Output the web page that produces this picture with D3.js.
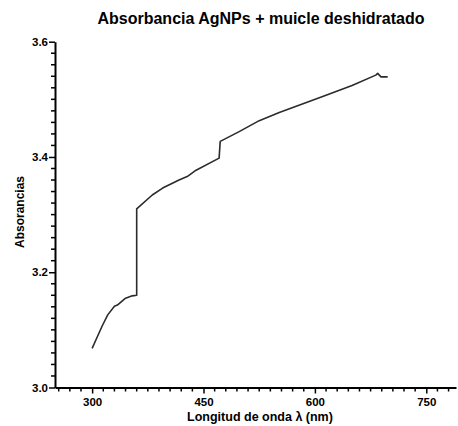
<!DOCTYPE html>
<html>
<head>
<meta charset="utf-8">
<script src="https://cdn.jsdelivr.net/npm/d3@7"></script>
<style>
  body { margin: 0; background: #fff; }
  text { font-family: "Liberation Sans", Arial, sans-serif; font-weight: bold; }
</style>
</head>
<body>
<svg id="chart" width="458" height="426"></svg>
<script>
// wavelength (nm) and absorbance
var wavelength = [300, 307, 314, 321, 330, 334, 345, 354, 360, 360, 381, 395, 417, 428, 440, 471, 472.5, 498, 525, 552, 615, 650, 682, 684.5, 689, 698];
var absorbance = [3.068, 3.088, 3.108, 3.126, 3.141, 3.143, 3.155, 3.159, 3.160, 3.310, 3.334, 3.346, 3.360, 3.366, 3.377, 3.398, 3.427, 3.444, 3.463, 3.477, 3.507, 3.524, 3.542, 3.545, 3.539, 3.539];
var xTicks = [300, 450, 600, 750];
var yTicks = [3.0, 3.2, 3.4, 3.6];
var xMinor = [255, 270, 285, 315, 330, 345, 360, 375, 390, 405, 420, 435, 465, 480, 495, 510, 525, 540, 555, 570, 585, 615, 630, 645, 660, 675, 690, 705, 720, 735, 765, 780];
var yMinor = [3.02, 3.04, 3.06, 3.08, 3.10, 3.12, 3.14, 3.16, 3.18, 3.22, 3.24, 3.26, 3.28, 3.30, 3.32, 3.34, 3.36, 3.38, 3.42, 3.44, 3.46, 3.48, 3.50, 3.52, 3.54, 3.56, 3.58];

var svg = d3.select("#chart");

var x = d3.scaleLinear().domain([250, 790]).range([55, 456]);
var y = d3.scaleLinear().domain([3.0, 3.6]).range([387.5, 41.7]);

// minor ticks
svg.append("g").selectAll("line").data(xMinor).enter().append("line")
  .attr("x1", function(d) { return x(d); })
  .attr("x2", function(d) { return x(d); })
  .attr("y1", y(3.0))
  .attr("y2", y(3.0) + 4)
  .attr("stroke", "#000")
  .attr("stroke-width", 1.5);

svg.append("g").selectAll("line").data(yMinor).enter().append("line")
  .attr("y1", function(d) { return y(d); })
  .attr("y2", function(d) { return y(d); })
  .attr("x1", x(250))
  .attr("x2", x(250) - 4)
  .attr("stroke", "#000")
  .attr("stroke-width", 1.5);

var xAxis = svg.append("g")
  .attr("transform", "translate(0," + y(3.0) + ")")
  .call(d3.axisBottom(x).tickValues(xTicks).tickSize(6).tickSizeOuter(0).tickPadding(4));
xAxis.select(".domain").attr("stroke-width", 2);
xAxis.selectAll("line").attr("stroke-width", 1.5);
xAxis.selectAll("text").attr("font-size", 11.5).attr("font-family", null);

var yAxis = svg.append("g")
  .attr("transform", "translate(" + x(250) + ",0)")
  .call(d3.axisLeft(y).tickValues(yTicks).tickSize(6).tickSizeOuter(0).tickPadding(1).tickFormat(d3.format(".1f")));
yAxis.select(".domain").attr("stroke-width", 2);
yAxis.selectAll("line").attr("stroke-width", 1.5);
yAxis.selectAll("text").attr("font-size", 11.5).attr("font-family", null);

var line = d3.line()
  .x(function(d, i) { return x(wavelength[i]); })
  .y(function(d) { return y(d); });

svg.append("path")
  .datum(absorbance)
  .attr("fill", "none")
  .attr("stroke", "#2b2b2b")
  .attr("stroke-width", 1.6)
  .attr("stroke-linejoin", "round")
  .attr("d", line);

svg.append("text")
  .attr("x", 261)
  .attr("y", 24)
  .attr("text-anchor", "middle")
  .attr("font-size", 16)
  .text("Absorbancia AgNPs + muicle deshidratado");

svg.append("text")
  .attr("x", 260)
  .attr("y", 421)
  .attr("text-anchor", "middle")
  .attr("font-size", 12.5)
  .text("Longitud de onda λ (nm)");

svg.append("text")
  .attr("transform", "translate(24,212) rotate(-90)")
  .attr("text-anchor", "middle")
  .attr("font-size", 12)
  .text("Absorancias");
</script>
</body>
</html>
